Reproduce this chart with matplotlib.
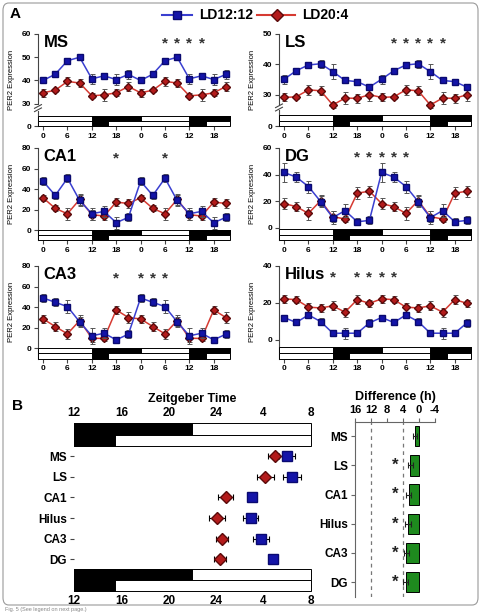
import matplotlib
matplotlib.use('Agg')
import matplotlib.pyplot as plt
import matplotlib.transforms as mtransforms
from matplotlib.lines import Line2D
from matplotlib.patches import Rectangle, FancyBboxPatch

plt.rcParams['font.family'] = ['Liberation Sans', 'DejaVu Sans']
plt.rcParams['font.weight'] = 'bold'

W, H = 482, 612

#
# Panel A data (double plotted, ZT hours)
#
zt = [0, 3, 6, 9, 12, 15, 18, 21, 24, 27, 30, 33, 36, 39, 42, 45]
zt_ticks = [0, 6, 12, 18, 24, 30, 36, 42]
zt_labels = ['0', '6', '12', '18', '0', '6', '12', '18']
ld12_dark = [(12, 24), (36, 48)]
ld20_dark = [(12, 16), (36, 40)]

ms_12 = [40, 42.7, 48.5, 50, 40.7, 42, 40.4, 42.6, 40, 42.7, 48.5, 50, 40.7, 42, 40.4, 42.6]
ms_12_err = [0.5, 0.5, 1, 0.5, 2.2, 1.4, 2.2, 1.8, 0.5, 0.5, 1, 0.5, 2.2, 1.4, 2.2, 1.8]
ms_20 = [34.7, 35.8, 39.6, 38.9, 33.4, 33.8, 34.7, 37.4, 34.7, 35.8, 39.6, 38.9, 33.4, 33.8, 34.7, 37.4]
ms_20_err = [1.8, 0.8, 2, 1.8, 1, 2.5, 1.5, 2, 1.8, 0.8, 2, 1.8, 1, 2.5, 1.5, 2]
ms_stars = [30, 33, 36, 39]

ls_12 = [35.1, 37.9, 39.8, 40.2, 37.6, 34.7, 34.3, 32.5, 35.1, 37.9, 39.8, 40.2, 37.6, 34.7, 34.3, 32.5]
ls_12_err = [1.5, 0.5, 0.5, 1.3, 2.5, 0.8, 0.8, 0.5, 1.5, 0.5, 0.5, 1.3, 2.5, 0.8, 0.8, 0.5]
ls_20 = [29.1, 29.3, 31.6, 31.3, 26.6, 28.9, 28.8, 30.0, 29.1, 29.3, 31.6, 31.3, 26.6, 28.9, 28.8, 30.0]
ls_20_err = [1.3, 0.6, 1.6, 1.5, 1, 2, 1.5, 2, 1.3, 0.6, 1.6, 1.5, 1, 2, 1.5, 2]
ls_stars = [27, 30, 33, 36, 39]

ca1_12 = [47.7, 33.9, 50.6, 29, 16.1, 18.4, 7.4, 12.6, 47.7, 33.9, 50.6, 29, 16.1, 18.4, 7.4, 12.6]
ca1_12_err = [4, 3, 4, 5, 6, 5, 6, 4, 4, 3, 4, 5, 6, 5, 6, 4]
ca1_20 = [31.6, 21.3, 16.1, 30, 15.2, 13.9, 27.4, 26.1, 31.6, 21.3, 16.1, 30, 15.2, 13.9, 27.4, 26.1]
ca1_20_err = [3, 3, 6, 5, 5, 4, 4, 4, 3, 3, 6, 5, 5, 4, 4, 4]
ca1_stars = [18, 30]

dg_12 = [41.6, 38.1, 31, 19.7, 7.6, 12.9, 4.5, 5.5, 41.6, 38.1, 31, 19.7, 7.6, 12.9, 4.5, 5.5]
dg_12_err = [7, 4, 4.5, 4, 5, 5, 2.5, 3, 7, 4, 4.5, 4, 5, 5, 2.5, 3]
dg_20 = [18.2, 15.9, 10.8, 20.4, 8.3, 6.6, 26, 27.5, 18.2, 15.9, 10.8, 20.4, 8.3, 6.6, 26, 27.5]
dg_20_err = [4, 3.5, 5, 4, 4, 2.5, 4.5, 4, 4, 3.5, 5, 4, 4, 2.5, 4.5, 4]
dg_stars = [18, 21, 24, 27, 30]

ca3_12 = [49, 44.8, 40.6, 25.8, 12.3, 14.8, 8.4, 13.9, 49, 44.8, 40.6, 25.8, 12.3, 14.8, 8.4, 13.9]
ca3_12_err = [4, 4, 6, 5, 8, 5, 3, 4, 4, 4, 6, 5, 8, 5, 3, 4]
ca3_20 = [28.7, 21.3, 14.2, 27.1, 10, 9.7, 37.4, 30, 28.7, 21.3, 14.2, 27.1, 10, 9.7, 37.4, 30]
ca3_20_err = [4, 4, 5, 5, 4, 2, 4, 5, 4, 4, 5, 5, 4, 2, 4, 5]
ca3_stars = [18, 24, 27, 30]

hil_12 = [12.1, 9.4, 13.5, 9.9, 3.6, 3.6, 3.6, 9.2, 12.1, 9.4, 13.5, 9.9, 3.6, 3.6, 3.6, 9.2]
hil_12_err = [1, 1.5, 1.5, 2, 1, 3, 1, 2, 1, 1.5, 1.5, 2, 1, 3, 1, 2]
hil_20 = [22.2, 21.8, 17.7, 17.3, 18.4, 15, 21.8, 19.8, 22.2, 21.8, 17.7, 17.3, 18.4, 15, 21.8, 19.8]
hil_20_err = [2, 2, 2.5, 2, 2.5, 2.5, 2.5, 2, 2, 2, 2.5, 2, 2.5, 2.5, 2.5, 2]
hil_stars = [12, 18, 21, 24, 27]

#
# Panel B data
#
regions_b = ['MS', 'LS', 'CA1', 'Hilus', 'CA3', 'DG']
phase_12 = [30.0, 30.4, 27.0, 26.9, 27.75, 28.8]
phase_12_err = [0.67, 0.73, 0.3, 0.6, 0.67, 0.3]
phase_20 = [29.0, 28.15, 24.8, 24.1, 24.5, 24.35]
phase_20_err = [0.63, 0.73, 0.63, 0.67, 0.5, 0.5]
b_ticks = [12, 16, 20, 24, 28, 32]
b_labels = ['12', '16', '20', '24', '4', '8']
b_dark_top = (12, 22)
b_dark_bottom = (12, 15.5)

diff = [1.1, 2.2, 2.6, 2.75, 3.2, 3.35]
diff_err = [0.5, 0.67, 0.58, 0.67, 0.67, 0.58]
diff_sig = [False, True, True, True, True, True]
diff_ticks = [16, 12, 8, 4, 0, -4]
diff_refs = [12, 4]

BLUE_L, BLUE_M = '#3a3fd0', '#1414a8'
RED_L, RED_M = '#d63a32', '#b31b1b'
SPINE = '#444444'

fig = plt.figure(figsize=(W / 100, H / 100), dpi=100)


def px_rect(x0, y0, x1, y1):
    return [x0 / W, 1 - y1 / H, (x1 - x0) / W, (y1 - y0) / H]


def light_bar(ax, y0, y1, dark, x0, x1):
    ax.add_patch(Rectangle((x0, y0), x1 - x0, y1 - y0, fc='white', ec='black', lw=0.7, clip_on=False, zorder=3))
    for a, b in dark:
        b = min(b, x1)
        ax.add_patch(Rectangle((a, y0), b - a, y1 - y0, fc='black', ec='black', lw=0.7, clip_on=False, zorder=3))


def draw_region(rect, name, b, be, r, re, stars, ylim, yticks, ylabels, bar, star_y, brk=None):
    ax = fig.add_axes(rect)
    ax.set_xlim(-1.25, 46)
    ax.set_ylim(*ylim)
    for s in ['top', 'right', 'bottom']:
        ax.spines[s].set_visible(False)
    ax.spines['left'].set_color(SPINE)
    ax.spines['left'].set_linewidth(0.8)
    ax.errorbar(zt, b, yerr=be, color=BLUE_L, lw=1.1, marker='s', ms=4, mfc=BLUE_M, mec='#0a0a70',
                ecolor='#555555', elinewidth=0.7, capsize=1.8, capthick=0.7, zorder=5)
    ax.errorbar(zt, r, yerr=re, color=RED_L, lw=1.1, marker='D', ms=4, mfc=RED_M, mec='#5a0a0a',
                ecolor='#555555', elinewidth=0.7, capsize=1.8, capthick=0.7, zorder=4)
    lo, mid, hi = bar
    light_bar(ax, mid, hi, ld12_dark, -1.25, 46)
    light_bar(ax, lo, mid, ld20_dark, -1.25, 46)
    ax.set_xticks(zt_ticks)
    ax.set_xticklabels(zt_labels)
    ax.set_yticks(yticks)
    ax.set_yticklabels(ylabels)
    ax.tick_params(axis='both', labelsize=6, length=3, width=0.8, color=SPINE, pad=2)
    ax.set_ylabel('PER2 Expression', fontsize=5.5, fontweight='normal')
    ax.yaxis.set_label_coords(-0.12, 0.5)
    ax.text(0.03, 0.985, name, transform=ax.transAxes, fontsize=12, fontweight='bold', va='top', ha='left')
    tr = mtransforms.blended_transform_factory(ax.transData, ax.transAxes)
    for x in stars:
        ax.text(x, star_y, '*', transform=tr, ha='center', va='center', fontsize=11, color='#333333')
    if brk is not None:
        ya = (brk - ylim[0]) / (ylim[1] - ylim[0])
        ax.add_patch(Rectangle((-0.02, ya - 0.03), 0.04, 0.06, transform=ax.transAxes, fc='white', ec='none',
                               clip_on=False, zorder=6))
        for dy in (-0.018, 0.018):
            ax.add_line(Line2D([-0.018, 0.018], [ya + dy - 0.02, ya + dy + 0.02], transform=ax.transAxes,
                               color=SPINE, lw=0.8, clip_on=False, zorder=7))
    return ax


LEFT = (38, 230)
RIGHT = (279, 471)
ROW1 = (34, 126.3)
ROW2 = (148, 240.5)
ROW3 = (266, 358.5)

draw_region(px_rect(LEFT[0], ROW1[0], LEFT[1], ROW1[1]), 'MS', ms_12, ms_12_err, ms_20, ms_20_err, ms_stars,
            (20.27, 60), [20.27, 30, 40, 50, 60], ['0', '30', '40', '50', '60'], (20.27, 22.55, 24.83), 0.9,
            brk=28.1)
draw_region(px_rect(RIGHT[0], ROW1[0], RIGHT[1], ROW1[1]), 'LS', ls_12, ls_12_err, ls_20, ls_20_err, ls_stars,
            (19.59, 50), [19.59, 30, 40, 50], ['0', '30', '40', '50'], (19.59, 21.4, 23.21), 0.9, brk=25.8)
draw_region(px_rect(LEFT[0], ROW2[0], LEFT[1], ROW2[1]), 'CA1', ca1_12, ca1_12_err, ca1_20, ca1_20_err,
            ca1_stars, (-9.9, 80), [0, 20, 40, 60, 80], ['0', '20', '40', '60', '80'], (-9.9, -4.95, 0), 0.89)
draw_region(px_rect(RIGHT[0], ROW2[0], RIGHT[1], ROW2[1]), 'DG', dg_12, dg_12_err, dg_20, dg_20_err,
            dg_stars, (-9.6, 60), [0, 20, 40, 60], ['0', '20', '40', '60'], (-9.6, -5.45, -1.3), 0.895)
draw_region(px_rect(LEFT[0], ROW3[0], LEFT[1], ROW3[1]), 'CA3', ca3_12, ca3_12_err, ca3_20, ca3_20_err,
            ca3_stars, (-9.7, 80), [0, 20, 40, 60, 80], ['0', '20', '40', '60', '80'], (-9.7, -4.85, 0), 0.87)
draw_region(px_rect(RIGHT[0], ROW3[0], RIGHT[1], ROW3[1]), 'Hilus', hil_12, hil_12_err, hil_20, hil_20_err,
            hil_stars, (-10.1, 40), [0, 20, 40], ['0', '20', '40'], (-10.1, -7.0, -3.95), 0.88)

# legend (manual)
ly = 1 - 15 / H
fig.add_artist(Line2D([162 / W, 192 / W], [ly, ly], color=BLUE_L, lw=1.5))
fig.add_artist(Line2D([177 / W], [ly], marker='s', ms=6, mfc=BLUE_M, mec='#0a0a70', ls='none'))
fig.text(199 / W, ly, 'LD12:12', fontsize=10, va='center', ha='left')
fig.add_artist(Line2D([257 / W, 295 / W], [ly, ly], color=RED_L, lw=1.5))
fig.add_artist(Line2D([277 / W], [ly], marker='D', ms=6, mfc=RED_M, mec='#5a0a0a', ls='none'))
fig.text(302 / W, ly, 'LD20:4', fontsize=10, va='center', ha='left')

fig.text(10 / W, 1 - 14 / H, 'A', fontsize=11, va='center', ha='left')
fig.text(12 / W, 1 - 406 / H, 'B', fontsize=11, va='center', ha='left')

#
# Panel B: phase plot
#
axb = fig.add_axes(px_rect(74, 423, 311, 591))
axb.set_xlim(12, 32)
axb.set_ylim(6.53, -1.6)
for s in axb.spines.values():
    s.set_visible(False)
yb = list(range(len(regions_b)))
light_bar(axb, -1.6, -1.03, [b_dark_top], 12, 32)
light_bar(axb, -1.03, -0.48, [b_dark_bottom], 12, 32)
light_bar(axb, 5.45, 5.99, [b_dark_top], 12, 32)
light_bar(axb, 5.99, 6.53, [b_dark_bottom], 12, 32)
axb.errorbar(phase_20, yb, xerr=phase_20_err, fmt='D', ms=6.5, mfc=RED_M, mec='#5a0a0a', ecolor='black',
             elinewidth=0.8, capsize=2.2, capthick=0.8, zorder=5)
axb.errorbar(phase_12, yb, xerr=phase_12_err, fmt='s', ms=7, mfc=BLUE_M, mec='#0a0a70', ecolor='black',
             elinewidth=0.8, capsize=2.2, capthick=0.8, zorder=5)
axb.set_xticks(b_ticks)
axb.set_xticklabels(b_labels)
axb.tick_params(axis='x', top=True, labeltop=True, bottom=True, labelbottom=True, length=0, pad=3, labelsize=8.5)
axb.set_yticks(yb)
axb.set_yticklabels(regions_b)
axb.tick_params(axis='y', length=3, width=0.8, color=SPINE, pad=2, labelsize=8.5)
fig.text(192 / W, 1 - 399 / H, 'Zeitgeber Time', fontsize=9, ha='center', va='center')

#
# Panel B: difference
#
axd = fig.add_axes(px_rect(355, 421.7, 435, 596.7))
axd.set_xlim(16, -4)
axd.set_ylim(5.5, -0.5)
axd.spines['right'].set_visible(False)
axd.spines['bottom'].set_visible(False)
axd.spines['left'].set_color('#666666')
axd.spines['top'].set_color('#666666')
for x in diff_refs:
    axd.axvline(x, ls=(0, (3, 3)), color='#777777', lw=0.9, zorder=1)
axd.barh(yb, diff, height=0.7, color='#1e8a1e', edgecolor='black', lw=0.7, zorder=3)
axd.errorbar(diff, yb, xerr=diff_err, fmt='none', ecolor='#222222', elinewidth=0.8, capsize=2, capthick=0.8,
             zorder=4)
for y, sig in zip(yb, diff_sig):
    if sig:
        axd.text(6, y, '*', ha='center', va='center', fontsize=12, color='#222222')
axd.xaxis.tick_top()
axd.set_xticks(diff_ticks)
axd.set_xticklabels([str(t) for t in diff_ticks])
axd.tick_params(axis='x', length=3, width=0.8, color='#666666', pad=1.5, labelsize=8)
axd.set_yticks(yb)
axd.set_yticklabels(regions_b)
axd.tick_params(axis='y', length=3, width=0.8, color='#666666', pad=2, labelsize=8.5)
fig.text(395 / W, 1 - 397 / H, 'Difference (h)', fontsize=9, ha='center', va='center')

# frame and caption
fig.add_artist(FancyBboxPatch((3 / W, 1 - 605 / H), 475 / W, 602 / H, boxstyle='round,pad=0,rounding_size=0.012',
                              transform=fig.transFigure, fill=False, ec='#9a9a9a', lw=0.8))
fig.text(5 / W, 1 - 610 / H, 'Fig. 5 (See legend on next page.)', fontsize=4, fontweight='normal',
         color='#888888', va='center', ha='left')

fig.savefig('out.png', dpi=100)
